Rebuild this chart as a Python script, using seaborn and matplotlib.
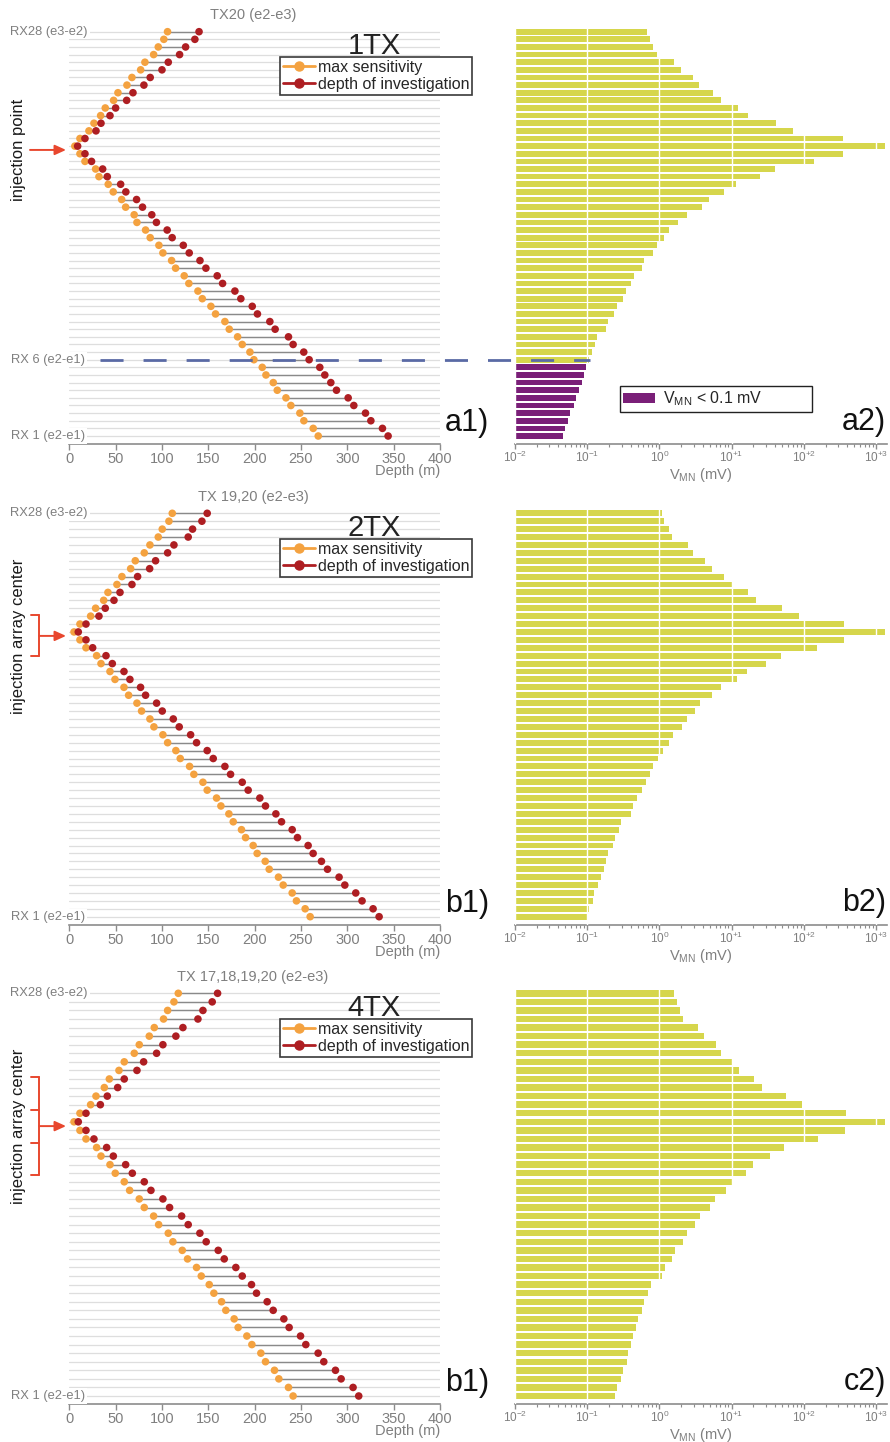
import numpy as np
import pandas as pd
import matplotlib
matplotlib.use("Agg")
import matplotlib.pyplot as plt
import matplotlib.transforms as mtransforms
from matplotlib.lines import Line2D
from matplotlib.patches import Patch
import seaborn as sns

sns.set_theme(style="white")
plt.rcParams["font.family"] = ["Liberation Sans", "DejaVu Sans"]
plt.rcParams["mathtext.fontset"] = "custom"
plt.rcParams["mathtext.rm"] = "Liberation Sans"
plt.rcParams["mathtext.it"] = "Liberation Sans:italic"
plt.rcParams["mathtext.bf"] = "Liberation Sans:bold"
plt.rcParams["mathtext.sf"] = "Liberation Sans"

# ---------------- data ----------------
# panel a: 1TX (TX20), 54 receiver dipoles, top (RX28) to bottom (RX1)
a_sens = [106, 102, 96, 91, 81.6, 77, 67.6, 62.2, 52.5, 47.8, 38.8, 33.8, 26.6, 21.2, 11.5, 6,
          11.5, 16.9, 28.4, 32, 42, 47.4, 56.5, 60.8, 70, 73, 82.3, 87.3, 96.7, 101, 110.4, 114.7,
          124, 129, 138.8, 143.5, 152.8, 157.8, 167.9, 172.6, 181.6, 186.6, 194.9, 199.2, 208.2,
          212.2, 220.1, 224.4, 233.8, 239.1, 248.8, 253.1, 263.2, 268.6]
a_doi = [140, 135.5, 125.5, 119, 106.8, 100, 87.3, 80.5, 68.7, 61.9, 50, 43.9, 34.2, 28.8, 16.9, 9,
         16.9, 24, 36, 41, 55.4, 61, 72.6, 79, 89, 94, 105.6, 111, 123, 129.4, 141, 147.4, 159.6,
         165.4, 178.7, 185.1, 197.4, 203, 216.4, 222.1, 236.5, 241.5, 253, 258.8, 270.3, 275.7,
         282.2, 288.3, 300.9, 307, 319.6, 325.4, 337.9, 344]
a_vmn = [0.667, 0.73, 0.82, 0.92, 1.59, 1.97, 2.89, 3.57, 5.58, 7.06, 12.4, 16.7, 40.7, 71.6, 353,
         1333, 353, 138, 39.9, 24.7, 11.5, 7.93, 4.92, 3.85, 2.44, 1.83, 1.36, 1.15, 0.916, 0.82,
         0.618, 0.567, 0.445, 0.40, 0.341, 0.31, 0.256, 0.235, 0.196, 0.18, 0.138, 0.128, 0.115,
         0.107, 0.0962, 0.0903, 0.0838, 0.0778, 0.070, 0.065, 0.0578, 0.0548, 0.0493, 0.0467]
a_row_labels = {0: "RX28 (e3-e2)", 43: "RX 6 (e2-e1)", 53: "RX 1 (e2-e1)"}

# panel b: 2TX (TX19,20), 52 dipoles
b_sens = [111.1, 107.5, 100.3, 96.0, 87.0, 80.9, 71.2, 66.2, 56.8, 51.4, 41.7, 37.1, 28.4, 23.0,
          11.5, 5.1, 11.5, 18.0, 29.5, 34.2, 43.9, 49.3, 59.0, 64.0, 73.0, 78.0, 87.0, 91.3, 101.0,
          106.1, 115.0, 119.7, 129.8, 134.4, 144.2, 148.8, 158.9, 163.6, 172.2, 176.9, 185.8,
          190.2, 198.4, 202.7, 211.4, 215.7, 225.7, 230.8, 240.5, 245.1, 254.5, 259.9]
b_doi = [148.8, 143.1, 133.0, 128.3, 112.9, 106.1, 93.1, 86.7, 73.7, 67.6, 54.7, 48.2, 38.8, 32.0,
         18.0, 9.7, 18.0, 25.2, 39.6, 46.4, 59.0, 65.4, 76.9, 82.3, 94.2, 100.3, 112.2, 118.6,
         130.9, 137.3, 148.8, 155.3, 167.9, 174.0, 186.6, 193.0, 205.6, 211.7, 222.9, 229.0,
         240.5, 246.2, 257.7, 263.1, 272.1, 278.6, 291.1, 297.3, 309.1, 315.9, 327.8, 334.3]
b_vmn = [1.07, 1.16, 1.37, 1.48, 2.52, 2.95, 4.28, 5.30, 7.93, 10.2, 16.7, 21.8, 49.4, 86.7, 364,
         1333, 364, 154, 48.3, 29.6, 16.2, 12.0, 7.06, 5.30, 3.65, 3.11, 2.44, 2.03, 1.56, 1.37,
         1.11, 0.946, 0.824, 0.741, 0.652, 0.567, 0.484, 0.435, 0.400, 0.294, 0.279, 0.243,
         0.230, 0.196, 0.182, 0.171, 0.154, 0.143, 0.124, 0.119, 0.107, 0.102]
b_row_labels = {0: "RX28 (e3-e2)", 51: "RX 1 (e2-e1)"}

# panel c: 4TX (TX17-20), 48 dipoles
c_sens = [117.6, 112.9, 106.1, 101.7, 91.7, 86.3, 75.5, 70.1, 59.3, 53.6, 43.2, 37.8, 28.8, 23.0,
          11.5, 5.1, 11.5, 18.0, 29.5, 34.2, 43.9, 49.6, 59.3, 65.1, 75.5, 80.9, 91.0, 96.4, 106.8,
          111.8, 121.9, 127.6, 137.3, 142.4, 151.0, 156.0, 164.3, 168.9, 177.9, 182.2, 191.6,
          197.0, 206.7, 211.7, 221.4, 226.1, 236.5, 241.5]
c_doi = [160.0, 154.2, 144.2, 138.8, 122.6, 115.0, 101.0, 94.2, 80.2, 73.0, 59.3, 52.2, 41.0, 33.5,
         18.0, 9.7, 18.0, 26.6, 40.3, 47.5, 60.8, 68.0, 80.9, 88.1, 101.0, 108.2, 121.2, 128.3,
         140.9, 147.7, 160.7, 167.2, 179.7, 186.6, 196.6, 202.0, 213.5, 220.0, 231.5, 237.2,
         249.5, 255.2, 268.5, 274.6, 287.2, 293.3, 306.2, 312.3]
c_vmn = [1.61, 1.73, 1.93, 2.15, 3.46, 4.19, 6.01, 7.06, 10.2, 12.8, 20.4, 26.6, 56.6, 93.3, 380,
         1333, 372, 156, 53.2, 34.0, 20.0, 15.8, 10.2, 8.28, 5.89, 5.02, 3.65, 3.11, 2.39, 2.15,
         1.64, 1.48, 1.20, 1.07, 0.765, 0.703, 0.618, 0.580, 0.511, 0.474, 0.435, 0.400, 0.372,
         0.352, 0.310, 0.291, 0.256, 0.243]
c_row_labels = {0: "RX28 (e3-e2)", 47: "RX 1 (e2-e1)"}

depth_ticks = [0, 50, 100, 150, 200, 250, 300, 350, 400]
vmn_ticks = [1e-2, 1e-1, 1e0, 1e1, 1e2, 1e3]
vmn_ticklabels = [r"$\mathregular{10^{-2}}$", r"$\mathregular{10^{-1}}$", r"$\mathregular{10^{0}}$",
                  r"$\mathregular{10^{+1}}$", r"$\mathregular{10^{+2}}$", r"$\mathregular{10^{+3}}$"]
series_names = ["max sensitivity", "depth of investigation"]
low_threshold = 0.1
injection_row = 15.5

# ---------------- style ----------------
ORANGE = "#F4A240"
DARKRED = "#AE1E22"
YELLOW = "#D6D64C"
PURPLE = "#7A1F78"
GRID = "#DEDEDE"
STEM = "#8A8A8A"
GRAYTXT = "#7F7F7F"
SPINE = "#8C8C8C"
ARROW = "#E8472E"
DASH = "#5A6AA5"

W, H = 890, 1442
fig = plt.figure(figsize=(W / 100, H / 100), dpi=100)


def fx(x):
    return x / W


def fy(y):
    return 1 - y / H


panels = [
    dict(sens=a_sens, doi=a_doi, vmn=a_vmn, labels=a_row_labels, top=20, r0=31.7, r1=436.0,
         spine=444.0, tx="TX20 (e2-e3)", tag="1TX", left_tag="a1)", right_tag="a2)",
         side="injection point", bracket=None, dashed_row=43, low_legend=True),
    dict(sens=b_sens, doi=b_doi, vmn=b_vmn, labels=b_row_labels, top=502, r0=513.3, r1=916.7,
         spine=925.0, tx="TX 19,20 (e2-e3)", tag="2TX", left_tag="b1)", right_tag="b2)",
         side="injection array center", bracket=(20.5, 2), dashed_row=None, low_legend=False),
    dict(sens=c_sens, doi=c_doi, vmn=c_vmn, labels=c_row_labels, top=982, r0=993.3, r1=1396.0,
         spine=1404.0, tx="TX 17,18,19,20 (e2-e3)", tag="4TX", left_tag="b1)", right_tag="c2)",
         side="injection array center", bracket=(49.3, 4), dashed_row=None, low_legend=False),
]

LX0, LX1 = 69.3, 440.0
RX0, RX1 = 515.0, 887.0

for p in panels:
    sens = np.asarray(p["sens"], float)
    doi = np.asarray(p["doi"], float)
    vmn = np.asarray(p["vmn"], float)
    n = len(sens)
    rows = np.arange(n)
    s = (p["r1"] - p["r0"]) / (n - 1)
    ylim = (n - 1 + (p["spine"] - p["r1"]) / s, -(p["r0"] - p["top"]) / s)
    h = (p["spine"] - p["top"]) / H

    axL = fig.add_axes([fx(LX0), fy(p["spine"]), (LX1 - LX0) / W, h])
    axR = fig.add_axes([fx(RX0), fy(p["spine"]), (RX1 - RX0) / W, h])

    # ---- left: dumbbell plot ----
    df = pd.DataFrame({
        "row": np.r_[rows, rows],
        "depth": np.r_[sens, doi],
        "kind": [series_names[0]] * n + [series_names[1]] * n,
    })
    axL.hlines(rows, sens, doi, colors=STEM, lw=1.0, zorder=2)
    sns.scatterplot(data=df, x="depth", y="row", hue="kind",
                    palette={series_names[0]: ORANGE, series_names[1]: DARKRED},
                    s=30, linewidth=0, legend=False, ax=axL, zorder=3)
    axL.set_xlim(0, 400)
    axL.set_ylim(*ylim)
    axL.set_yticks(rows)
    axL.grid(axis="y", color=GRID, lw=0.9)
    axL.grid(axis="x", visible=False)
    axL.set_axisbelow(True)
    axL.set_xticks(depth_ticks)
    axL.set_xlabel("")
    axL.set_ylabel("")
    for side in ["top", "right", "left"]:
        axL.spines[side].set_visible(False)
    axL.spines["bottom"].set_color(SPINE)
    axL.spines["bottom"].set_linewidth(1.2)
    axL.tick_params(axis="y", left=False, labelleft=False)
    axL.tick_params(axis="x", bottom=True, direction="out", length=4, width=1, color=SPINE,
                    labelcolor=GRAYTXT, labelsize=10.5, pad=2)

    handles = [Line2D([], [], color=ORANGE, lw=2, marker="o", markersize=6.5, label=series_names[0]),
               Line2D([], [], color=DARKRED, lw=2, marker="o", markersize=6.5, label=series_names[1])]
    leg = axL.legend(handles=handles, loc="upper left", bbox_to_anchor=(fx(280), fy(p["top"] + 37)),
                     bbox_transform=fig.transFigure, frameon=True, fancybox=False, framealpha=1,
                     edgecolor="#3a3a3a", fontsize=11.5, borderpad=0.18, handlelength=2.0,
                     handletextpad=0.2, labelspacing=0.12, borderaxespad=0)
    leg.get_frame().set_linewidth(1.2)

    trans = mtransforms.blended_transform_factory(fig.transFigure, axL.transData)
    for r, txt in p["labels"].items():
        xr = 88 if r == 0 else 85
        axL.text(fx(xr), r, txt, transform=trans, ha="right", va="center", fontsize=9.3,
                 color=GRAYTXT, zorder=4,
                 bbox=dict(boxstyle="square,pad=0.12", fc="white", ec="none"))

    # injection marker
    if p["bracket"] is None:
        x_start = 30
    else:
        x_start = 39
        half_px, nseg = p["bracket"]
        hh = half_px / s
        fig.add_artist(Line2D([fx(39), fx(39)], [injection_row - hh, injection_row + hh],
                              transform=trans, color=ARROW, lw=1.4))
        for k in range(nseg):
            yy = injection_row - hh + k * (2 * hh) / (nseg - 1)
            fig.add_artist(Line2D([fx(31), fx(39)], [yy, yy], transform=trans, color=ARROW, lw=1.4))
    axL.annotate("", xy=(fx(66), injection_row), xycoords=trans,
                 xytext=(fx(x_start), injection_row), textcoords=trans,
                 arrowprops=dict(arrowstyle="-|>,head_length=0.55,head_width=0.25", color=ARROW,
                                 lw=1.4, shrinkA=0, shrinkB=0),
                 annotation_clip=False)
    axL.text(fx(19), injection_row, p["side"], transform=trans, rotation=90, ha="center",
             va="center", fontsize=12, color="#1a1a1a")

    # ---- right: bars on log scale ----
    cat = np.where(vmn < low_threshold, "low", "ok")
    sns.barplot(x=vmn, y=rows, hue=cat, palette={"ok": YELLOW, "low": PURPLE}, orient="y",
                native_scale=True, dodge=False, width=0.75, saturation=1, linewidth=0,
                legend=False, ax=axR)
    axR.set_xscale("log")
    axR.set_xlim(1e-2, 10 ** 3.152)
    axR.set_ylim(*ylim)
    axR.set_yticks([])
    axR.set_xlabel("")
    axR.set_ylabel("")
    axR.set_xticks(vmn_ticks)
    axR.set_xticklabels(vmn_ticklabels)
    axR.grid(axis="x", which="major", color="white", lw=1.0)
    axR.grid(axis="y", visible=False)
    axR.set_axisbelow(False)
    for side in ["top", "right", "left"]:
        axR.spines[side].set_visible(False)
    axR.spines["bottom"].set_color(SPINE)
    axR.spines["bottom"].set_linewidth(1.2)
    axR.tick_params(axis="x", which="major", bottom=True, direction="out", length=3.5, width=1,
                    color=SPINE, labelcolor=GRAYTXT, labelsize=8.5, pad=0.5)
    axR.tick_params(axis="x", which="minor", bottom=True, direction="out", length=2.2, width=0.8,
                    color=SPINE)

    if p["low_legend"]:
        lh = [Patch(facecolor=PURPLE, edgecolor="none", label=r"V$_{\mathregular{MN}}$ < 0.1 mV")]
        leg2 = axR.legend(handles=lh, loc="center left", mode="expand",
                          bbox_to_anchor=(fx(620), fy(410), (812 - 620) / W, (410 - 388) / H),
                          bbox_transform=fig.transFigure, frameon=True, fancybox=False,
                          framealpha=1, edgecolor="#222222", fontsize=11.5, borderpad=0.2,
                          handlelength=2.0, handleheight=0.5, handletextpad=0.5, borderaxespad=0)
        leg2.get_frame().set_linewidth(1.0)

    if p["dashed_row"] is not None:
        fig.add_artist(Line2D([fx(100), fx(590)], [p["dashed_row"], p["dashed_row"]],
                              transform=trans, color=DASH, lw=2.0, dashes=(8.3, 7.2), zorder=5))

    # ---- texts ----
    sp = p["spine"]
    fig.text(fx(253), fy(p["top"] - 5), p["tx"], ha="center", va="center", fontsize=10.5,
             color=GRAYTXT)
    fig.text(fx(374), fy(p["top"] + 26.5), p["tag"], ha="center", va="center", fontsize=21,
             color="#222222")
    fig.text(fx(440), fy(sp + 27), "Depth (m)", ha="right", va="center", fontsize=10.5,
             color=GRAYTXT)
    fig.text(fx(701), fy(sp + 31), r"V$_{\mathregular{MN}}$ (mV)", ha="center", va="center",
             fontsize=10.5, color=GRAYTXT)
    fig.text(fx(489), fy(sp - 13), p["left_tag"], ha="right", va="baseline", fontsize=22,
             color="#111111")
    fig.text(fx(886), fy(sp - 14), p["right_tag"], ha="right", va="baseline", fontsize=22,
             color="#111111")

fig.savefig("out.png", dpi=100, facecolor="white")
